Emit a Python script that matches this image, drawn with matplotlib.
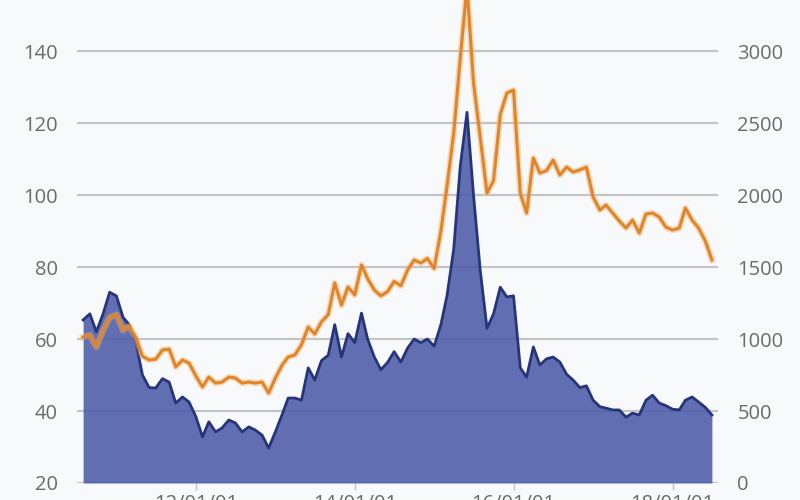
import matplotlib
matplotlib.use("Agg")
import matplotlib.pyplot as plt
import matplotlib.dates as mdates
import pandas as pd

# monthly series, first of month
dates = pd.date_range("2010-08-01", periods=96, freq="MS")

blue_vals = [65.3, 67, 62, 67, 73, 72, 66, 64, 59, 50,
             46.5, 46.4, 49, 48, 42.2, 43.9, 42.5, 38.5, 32.8, 37,
             34.2, 35.3, 37.5, 36.7, 34.2, 35.6, 34.7, 33.3, 29.7, 34.2,
             39, 43.6, 43.6, 43, 52, 48.6, 54, 55.5, 64, 55,
             61.5, 59, 67.2, 60, 55, 51.5, 53.5, 56.5, 53.6, 57.5,
             60, 59, 60, 58, 64, 72, 85, 108, 123, 100,
             79, 63, 67, 74.4, 71.7, 72, 52, 49.4, 57.8, 52.8,
             54.5, 55, 53.6, 50.2, 48.6, 46.5, 47, 43, 41.2, 40.8,
             40.3, 40.3, 38.3, 39.4, 38.9, 43, 44.4, 42.2, 41.5, 40.5,
             40.3, 43, 43.9, 42.5, 41, 38.9]

orange_vals = [1014, 1028, 944, 1060, 1150, 1170, 1060, 1090, 1010, 880,
               855, 860, 924, 930, 806, 854, 833, 745, 667, 736,
               694, 701, 736, 729, 694, 701, 694, 701, 625, 729,
               819, 875, 890, 960, 1083, 1035, 1120, 1170, 1389, 1236,
               1361, 1306, 1514, 1420, 1340, 1300, 1330, 1400, 1370, 1480,
               1549, 1528, 1560, 1490, 1750, 2060, 2430, 2950, 3450, 2780,
               2400, 2014, 2100, 2560, 2708, 2729, 2014, 1875, 2257, 2153,
               2170, 2243, 2139, 2194, 2160, 2175, 2194, 1986, 1896, 1931,
               1875, 1820, 1771, 1826, 1736, 1868, 1875, 1847, 1778, 1757,
               1771, 1910, 1826, 1771, 1680, 1549]

left_ticks = [20, 40, 60, 80, 100, 120, 140]
right_ticks = [0, 500, 1000, 1500, 2000, 2500, 3000]
x_ticks = ["2012-01-01", "2014-01-01", "2016-01-01", "2018-01-01"]

bg = "#f8f9fb"
txt = "#6b6b6b"
grid_c = "#c4c4c4"

plt.rcParams["font.family"] = ["Open Sans", "DejaVu Sans"]

fig = plt.figure(figsize=(8, 5), dpi=100, facecolor=bg)
ax = fig.add_axes([0.09625, 0.034, 0.80125, 0.966])
ax.set_facecolor(bg)

ax.fill_between(dates, blue_vals, 20, color="#4c5ca8", alpha=0.88, lw=0, zorder=2)
ax.plot(dates, blue_vals, color="#26347a", lw=2, zorder=3)

ax.set_ylim(20, 154.2)
ax.set_yticks(left_ticks)
ax.yaxis.grid(True, color=grid_c, lw=1.6, zorder=1)
ax.set_axisbelow(True)

pad = pd.Timedelta(days=28)
ax.set_xlim(dates[0] - pad, dates[-1] + pad)
ax.set_xticks(pd.to_datetime(x_ticks))
ax.xaxis.set_major_formatter(mdates.DateFormatter("%y/%m/%d"))

ax2 = ax.twinx()
ax2.plot(dates, orange_vals, color="#f2b36d", lw=4.5, alpha=0.45, zorder=3)
ax2.plot(dates, orange_vals, color="#e0852a", lw=2.2, zorder=4)
ax2.set_ylim(0, (154.2 - 20) * 25)
ax2.set_yticks(right_ticks)

for a in (ax, ax2):
    for s in a.spines.values():
        s.set_visible(False)

ax.tick_params(axis="y", length=0, pad=14, labelsize=14.5, labelcolor=txt)
ax2.tick_params(axis="y", length=0, pad=14, labelsize=14.5, labelcolor=txt)
ax.tick_params(axis="x", length=5, width=1, color=grid_c, pad=3,
               labelsize=14.5, labelcolor=txt)

fig.savefig("out.png", dpi=100, facecolor=bg)
